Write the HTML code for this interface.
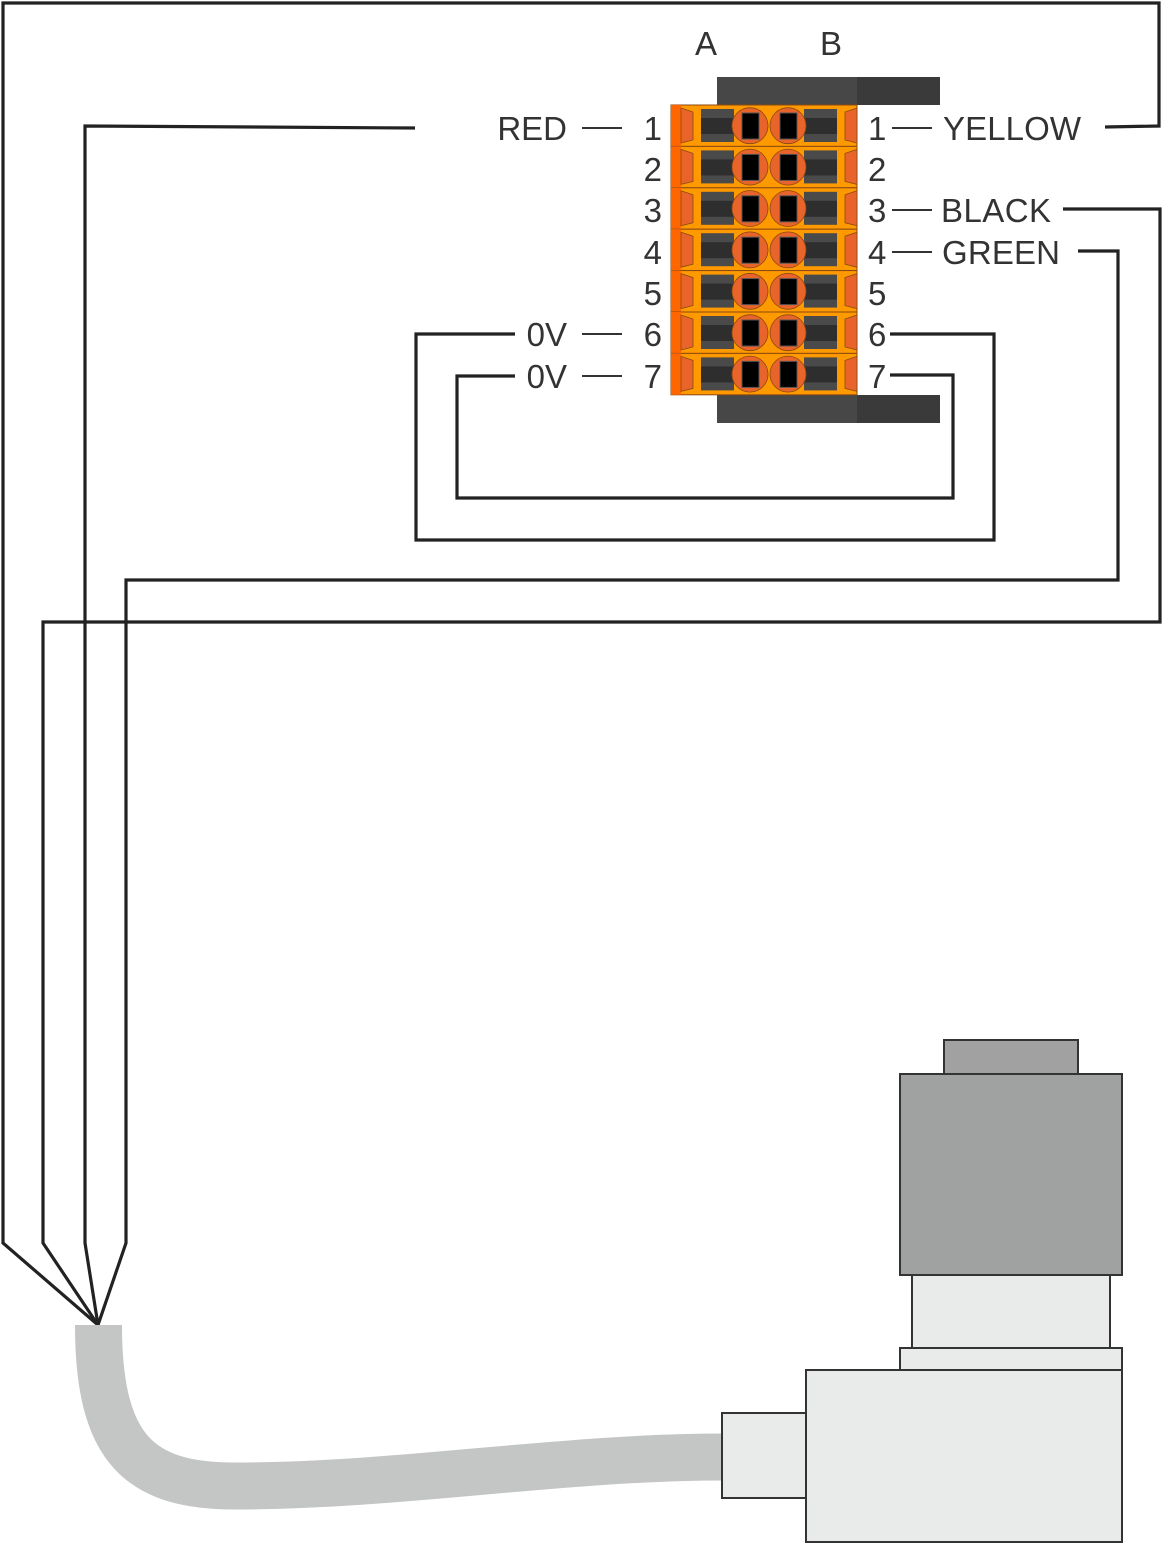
<!DOCTYPE html>
<html><head><meta charset="utf-8"><style>
html,body{margin:0;padding:0;background:#fff}
svg{display:block}
text{font-family:"Liberation Sans",sans-serif;fill:#333;font-size:33px}
</style></head><body>
<svg width="1163" height="1544" viewBox="0 0 1163 1544" xmlns="http://www.w3.org/2000/svg">
<defs>
<g id="row">
  <rect x="671" y="0" width="186" height="41.4" fill="#ff9900" stroke="#8a4a10" stroke-width="1"/>
  <rect x="671" y="0" width="10" height="41.4" fill="#ff6600"/>
  <polygon points="681,3 693,7 693,35 681,38" fill="#e8642a" stroke="#8a4a10" stroke-width="0.8"/>
  <polygon points="857,3 845,7 845,35 857,38" fill="#e8642a" stroke="#8a4a10" stroke-width="0.8"/>
  <rect x="701" y="4" width="33" height="33" fill="#4a4a4a"/>
  <rect x="701" y="13" width="33" height="16" fill="#2e2e2e"/>
  <rect x="804" y="4" width="33" height="33" fill="#4a4a4a"/>
  <rect x="804" y="13" width="33" height="16" fill="#2e2e2e"/>
  <ellipse cx="750" cy="20.7" rx="18" ry="18" fill="#e8642a" stroke="#8a4a10" stroke-width="0.8"/>
  <ellipse cx="788" cy="20.7" rx="18" ry="18" fill="#e8642a" stroke="#8a4a10" stroke-width="0.8"/>
  <rect x="742" y="8" width="17" height="26" fill="#000" stroke="#555" stroke-width="1"/>
  <rect x="780" y="8" width="17" height="26" fill="#000" stroke="#555" stroke-width="1"/>
</g>
</defs>

<rect x="717" y="77" width="223" height="28" fill="#474747"/>
<rect x="857" y="77" width="83" height="28" fill="#3a3a3a"/>
<rect x="717" y="395" width="223" height="28" fill="#474747"/>
<rect x="857" y="395" width="83" height="28" fill="#3a3a3a"/>
<use href="#row" y="105"/>
<use href="#row" y="146.4"/>
<use href="#row" y="187.8"/>
<use href="#row" y="229.2"/>
<use href="#row" y="270.6"/>
<use href="#row" y="312"/>
<use href="#row" y="353.4"/>

<text x="706" y="55" text-anchor="middle">A</text>
<text x="831" y="55" text-anchor="middle">B</text>

<g text-anchor="end">
<text x="662" y="140">1</text><text x="662" y="181">2</text><text x="662" y="222">3</text>
<text x="662" y="264">4</text><text x="662" y="305">5</text><text x="662" y="346">6</text><text x="662" y="388">7</text>
<text x="567" y="140">RED</text>
<text x="567" y="346">0V</text>
<text x="567" y="388">0V</text>
</g>
<text x="868" y="140">1</text><text x="868" y="181">2</text><text x="868" y="222">3</text>
<text x="868" y="264">4</text><text x="868" y="305">5</text><text x="868" y="346">6</text><text x="868" y="388">7</text>
<text x="943" y="140" textLength="138">YELLOW</text>
<text x="941" y="222" textLength="110">BLACK</text>
<text x="942" y="264" textLength="118">GREEN</text>

<g stroke="#333" stroke-width="2">
<line x1="582" y1="128" x2="622" y2="128"/>
<line x1="582" y1="334" x2="622" y2="334"/>
<line x1="582" y1="376" x2="622" y2="376"/>
<line x1="892" y1="128" x2="932" y2="128"/>
<line x1="892" y1="210" x2="932" y2="210"/>
<line x1="892" y1="252" x2="932" y2="252"/>
</g>

<g fill="none" stroke="#222" stroke-width="3.2" stroke-linejoin="miter">
<polyline points="1105,127 1159,126 1159,3 3,3 3,1243 98,1325"/>
<polyline points="415,128 85,126 85,1243 98,1325"/>
<polyline points="1063,209 1160,209 1160,622 43,622 43,1243 98,1325"/>
<polyline points="1078,251 1118,251 1118,580 126,580 126,1243 98,1325"/>
<polyline points="515,334 416,334 416,540 994,540 994,334 890,334"/>
<polyline points="515,376 457,376 457,498 953,498 953,375 890,375"/>
</g>

<path d="M98.5,1325 C98.5,1450 140,1486 235,1486 C400,1486 560,1457 724,1457" fill="none" stroke="#c4c6c5" stroke-width="47"/>

<g stroke="#333" stroke-width="2">
<rect x="944" y="1040" width="134" height="34" fill="#a0a1a0"/>
<rect x="900" y="1074" width="222" height="201" fill="#a0a2a1"/>
<rect x="912" y="1275" width="198" height="73" fill="#e9ebea"/>
<rect x="900" y="1348" width="222" height="22" fill="#e9ebea"/>
<rect x="806" y="1370" width="316" height="172" fill="#e9ebea"/>
<rect x="722" y="1413" width="84" height="85" fill="#e9ebea"/>
</g>
</svg>
</body></html>
